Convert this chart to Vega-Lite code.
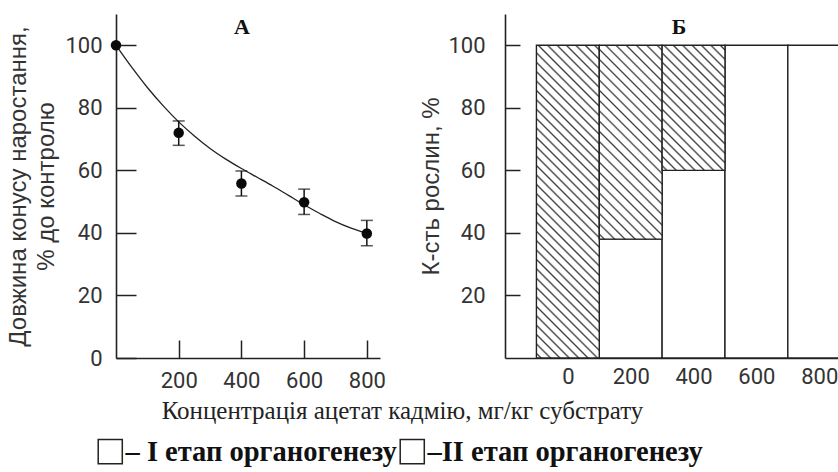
{
  "$schema": "https://vega.github.io/schema/vega-lite/v6.json",
  "background": "white",
  "padding": {"left": 6, "top": 14, "right": 0, "bottom": 0},
  "bounds": "flush",
  "spacing": 125,
  "config": {
    "view": {"stroke": null},
    "axis": {"grid": false, "domainColor": "#222", "domainWidth": 1.6, "tickColor": "#222", "tickWidth": 1.5, "labelFont": "Roboto", "labelFontSize": 22, "labelColor": "#333", "labelFlush": false, "labelOverlap": false, "titleFont": "Liberation Sans", "titleFontSize": 24, "titleFontWeight": "normal", "titleColor": "#333"}
  },
  "datasets": {
    "curve": [{"conc":0,"fit":100},{"conc":50,"fit":93},{"conc":100,"fit":86.5},{"conc":150,"fit":80.7},{"conc":200,"fit":75.5},{"conc":250,"fit":71},{"conc":300,"fit":67},{"conc":350,"fit":63.6},{"conc":400,"fit":60.6},{"conc":450,"fit":57.8},{"conc":500,"fit":55},{"conc":550,"fit":52},{"conc":600,"fit":49},{"conc":650,"fit":46.2},{"conc":700,"fit":43.6},{"conc":750,"fit":41.5},{"conc":800,"fit":39.8}],
    "points": [{"conc":0,"val":100},{"conc":200,"val":72,"lo":68,"hi":75.8},{"conc":400,"val":55.8,"lo":51.8,"hi":59.8},{"conc":600,"val":49.8,"lo":45.9,"hi":54},{"conc":800,"val":39.8,"lo":35.9,"hi":44}],
    "bars": [{"conc":0,"stage":"I","pct":0},{"conc":0,"stage":"II","pct":100},{"conc":200,"stage":"I","pct":38},{"conc":200,"stage":"II","pct":62},{"conc":400,"stage":"I","pct":60},{"conc":400,"stage":"II","pct":40},{"conc":600,"stage":"I","pct":100},{"conc":600,"stage":"II","pct":0},{"conc":800,"stage":"I","pct":100},{"conc":800,"stage":"II","pct":0}]
  },
  "hconcat": [
    {
      "width": 264, "height": 344,
      "layer": [
        {
          "data": {"name": "curve"},
          "mark": {"type": "line", "interpolate": "monotone", "color": "#222", "strokeWidth": 1.3},
          "encoding": {
            "x": {"field": "conc", "type": "quantitative", "scale": {"domain": [0, 842], "nice": false, "zero": false},
                  "axis": {"values": [200,400,600,800], "title": null, "tickSize": -18, "labelPadding": 30}},
            "y": {"field": "fit", "type": "quantitative", "scale": {"domain": [0, 110], "nice": false},
                  "axis": {"values": [0,20,40,60,80,100], "tickSize": -20, "labelPadding": 34, "title": ["Довжина конусу наростання,", "% до контролю"], "titlePadding": 6, "titleLineHeight": 28}}
          }
        },
        {
          "data": {"name": "points"},
          "mark": {"type": "rule", "color": "#111", "strokeWidth": 1.5},
          "encoding": {"x": {"field": "conc", "type": "quantitative"}, "y": {"field": "lo", "type": "quantitative"}, "y2": {"field": "hi"}}
        },
        {
          "data": {"name": "points"},
          "mark": {"type": "tick", "orient": "horizontal", "color": "#111", "size": 12, "thickness": 1.5},
          "encoding": {"x": {"field": "conc", "type": "quantitative"}, "y": {"field": "lo", "type": "quantitative"}}
        },
        {
          "data": {"name": "points"},
          "mark": {"type": "tick", "orient": "horizontal", "color": "#111", "size": 12, "thickness": 1.5},
          "encoding": {"x": {"field": "conc", "type": "quantitative"}, "y": {"field": "hi", "type": "quantitative"}}
        },
        {
          "data": {"name": "points"},
          "mark": {"type": "point", "filled": true, "size": 110, "color": "#0a0a0a", "opacity": 1},
          "encoding": {"x": {"field": "conc", "type": "quantitative"}, "y": {"field": "val", "type": "quantitative"}}
        },
        {
          "data": {"values": [{"panel": "А"}]},
          "mark": {"type": "text", "font": "Liberation Serif", "fontWeight": "bold", "fontSize": 22, "color": "#111", "baseline": "middle", "align": "center"},
          "encoding": {"x": {"datum": 402}, "y": {"datum": 105.7}, "text": {"field": "panel"}}
        }
      ]
    },
    {
      "width": 335, "height": 344,
      "layer": [
        {
          "data": {"name": "bars"},
          "transform": [
            {"stack": "pct", "groupby": ["conc"], "sort": [{"field": "stage", "order": "ascending"}], "as": ["y0", "y1"]},
            {"calculate": "datum.conc - 100", "as": "xl"},
            {"calculate": "datum.conc + 100", "as": "xr"},
            {"filter": "datum.stage === 'I' && datum.pct > 0"}
          ],
          "mark": {"type": "rect", "clip": true, "stroke": "#222", "strokeWidth": 1.4},
          "encoding": {
            "x": {"field": "xl", "type": "quantitative", "scale": {"domain": [-200, 866], "nice": false, "zero": false},
                  "axis": {"values": [0,200,400,600,800], "ticks": false, "labelPadding": 8,
                           "title": "Концентрація ацетат кадмію, мг/кг субстрату", "titleFont": "Liberation Serif", "titleFontSize": 25, "titleColor": "#222", "titleX": -103, "titleY": 60, "titleBaseline": "alphabetic", "titleAlign": "center"}},
            "x2": {"field": "xr"},
            "y": {"field": "y0", "type": "quantitative", "scale": {"domain": [0, 110], "nice": false},
                  "axis": {"values": [20,40,60,80,100], "tickSize": -15, "labelPadding": 35, "title": "К-сть рослин, %", "titlePadding": 4}},
            "y2": {"field": "y1"},
            "fill": {"field": "stage", "type": "nominal", "scale": {"domain": ["I", "II"], "range": ["#ffffff", "#ffffff"]},
                     "legend": {"orient": "none", "legendX": -20, "legendY": 423, "direction": "horizontal", "title": null,
                                "symbolType": "square", "symbolSize": 580, "symbolStrokeColor": "#222", "symbolStrokeWidth": 1.5, "symbolOpacity": 1,
                                "labelFont": "Liberation Serif", "labelFontWeight": "bold", "labelFontSize": 28.5, "labelColor": "#111", "labelOffset": 1, "labelLimit": 0, "columnPadding": 0,
                                "labelExpr": "datum.value === 'I' ? '– I етап органогенезу' : '–II етап органогенезу'"}}
          }
        },
        {
          "data": {"name": "bars"},
          "transform": [
            {"stack": "pct", "groupby": ["conc"], "sort": [{"field": "stage", "order": "ascending"}], "as": ["y0", "y1"]},
            {"calculate": "datum.conc - 100", "as": "xl"},
            {"calculate": "datum.conc + 100", "as": "xr"},
            {"filter": "datum.stage === 'II' && datum.conc === 0"}
          ],
          "mark": {"type": "rect", "clip": true, "stroke": "#222", "strokeWidth": 1.4,
                   "fill": {"gradient": "linear", "x1": 0, "y1": 1, "x2": 0.232, "y2": -0.1544, "stops": [
{"offset":0.0075,"color":"#fff"},{"offset":0.0125,"color":"#3c3c3c"},{"offset":0.0175,"color":"#fff"},
{"offset":0.0325,"color":"#fff"},{"offset":0.0375,"color":"#3c3c3c"},{"offset":0.0425,"color":"#fff"},
{"offset":0.0575,"color":"#fff"},{"offset":0.0625,"color":"#3c3c3c"},{"offset":0.0675,"color":"#fff"},
{"offset":0.0825,"color":"#fff"},{"offset":0.0875,"color":"#3c3c3c"},{"offset":0.0925,"color":"#fff"},
{"offset":0.1075,"color":"#fff"},{"offset":0.1125,"color":"#3c3c3c"},{"offset":0.1175,"color":"#fff"},
{"offset":0.1325,"color":"#fff"},{"offset":0.1375,"color":"#3c3c3c"},{"offset":0.1425,"color":"#fff"},
{"offset":0.1575,"color":"#fff"},{"offset":0.1625,"color":"#3c3c3c"},{"offset":0.1675,"color":"#fff"},
{"offset":0.1825,"color":"#fff"},{"offset":0.1875,"color":"#3c3c3c"},{"offset":0.1925,"color":"#fff"},
{"offset":0.2075,"color":"#fff"},{"offset":0.2125,"color":"#3c3c3c"},{"offset":0.2175,"color":"#fff"},
{"offset":0.2325,"color":"#fff"},{"offset":0.2375,"color":"#3c3c3c"},{"offset":0.2425,"color":"#fff"},
{"offset":0.2575,"color":"#fff"},{"offset":0.2625,"color":"#3c3c3c"},{"offset":0.2675,"color":"#fff"},
{"offset":0.2825,"color":"#fff"},{"offset":0.2875,"color":"#3c3c3c"},{"offset":0.2925,"color":"#fff"},
{"offset":0.3075,"color":"#fff"},{"offset":0.3125,"color":"#3c3c3c"},{"offset":0.3175,"color":"#fff"},
{"offset":0.3325,"color":"#fff"},{"offset":0.3375,"color":"#3c3c3c"},{"offset":0.3425,"color":"#fff"},
{"offset":0.3575,"color":"#fff"},{"offset":0.3625,"color":"#3c3c3c"},{"offset":0.3675,"color":"#fff"},
{"offset":0.3825,"color":"#fff"},{"offset":0.3875,"color":"#3c3c3c"},{"offset":0.3925,"color":"#fff"},
{"offset":0.4075,"color":"#fff"},{"offset":0.4125,"color":"#3c3c3c"},{"offset":0.4175,"color":"#fff"},
{"offset":0.4325,"color":"#fff"},{"offset":0.4375,"color":"#3c3c3c"},{"offset":0.4425,"color":"#fff"},
{"offset":0.4575,"color":"#fff"},{"offset":0.4625,"color":"#3c3c3c"},{"offset":0.4675,"color":"#fff"},
{"offset":0.4825,"color":"#fff"},{"offset":0.4875,"color":"#3c3c3c"},{"offset":0.4925,"color":"#fff"},
{"offset":0.5075,"color":"#fff"},{"offset":0.5125,"color":"#3c3c3c"},{"offset":0.5175,"color":"#fff"},
{"offset":0.5325,"color":"#fff"},{"offset":0.5375,"color":"#3c3c3c"},{"offset":0.5425,"color":"#fff"},
{"offset":0.5575,"color":"#fff"},{"offset":0.5625,"color":"#3c3c3c"},{"offset":0.5675,"color":"#fff"},
{"offset":0.5825,"color":"#fff"},{"offset":0.5875,"color":"#3c3c3c"},{"offset":0.5925,"color":"#fff"},
{"offset":0.6075,"color":"#fff"},{"offset":0.6125,"color":"#3c3c3c"},{"offset":0.6175,"color":"#fff"},
{"offset":0.6325,"color":"#fff"},{"offset":0.6375,"color":"#3c3c3c"},{"offset":0.6425,"color":"#fff"},
{"offset":0.6575,"color":"#fff"},{"offset":0.6625,"color":"#3c3c3c"},{"offset":0.6675,"color":"#fff"},
{"offset":0.6825,"color":"#fff"},{"offset":0.6875,"color":"#3c3c3c"},{"offset":0.6925,"color":"#fff"},
{"offset":0.7075,"color":"#fff"},{"offset":0.7125,"color":"#3c3c3c"},{"offset":0.7175,"color":"#fff"},
{"offset":0.7325,"color":"#fff"},{"offset":0.7375,"color":"#3c3c3c"},{"offset":0.7425,"color":"#fff"},
{"offset":0.7575,"color":"#fff"},{"offset":0.7625,"color":"#3c3c3c"},{"offset":0.7675,"color":"#fff"},
{"offset":0.7825,"color":"#fff"},{"offset":0.7875,"color":"#3c3c3c"},{"offset":0.7925,"color":"#fff"},
{"offset":0.8075,"color":"#fff"},{"offset":0.8125,"color":"#3c3c3c"},{"offset":0.8175,"color":"#fff"},
{"offset":0.8325,"color":"#fff"},{"offset":0.8375,"color":"#3c3c3c"},{"offset":0.8425,"color":"#fff"},
{"offset":0.8575,"color":"#fff"},{"offset":0.8625,"color":"#3c3c3c"},{"offset":0.8675,"color":"#fff"},
{"offset":0.8825,"color":"#fff"},{"offset":0.8875,"color":"#3c3c3c"},{"offset":0.8925,"color":"#fff"},
{"offset":0.9075,"color":"#fff"},{"offset":0.9125,"color":"#3c3c3c"},{"offset":0.9175,"color":"#fff"},
{"offset":0.9325,"color":"#fff"},{"offset":0.9375,"color":"#3c3c3c"},{"offset":0.9425,"color":"#fff"},
{"offset":0.9575,"color":"#fff"},{"offset":0.9625,"color":"#3c3c3c"},{"offset":0.9675,"color":"#fff"},
{"offset":0.9825,"color":"#fff"},{"offset":0.9875,"color":"#3c3c3c"},{"offset":0.9925,"color":"#fff"}
                   ]}},
          "encoding": {"x": {"field": "xl", "type": "quantitative"}, "x2": {"field": "xr"}, "y": {"field": "y0", "type": "quantitative"}, "y2": {"field": "y1"}}
        },
        {
          "data": {"name": "bars"},
          "transform": [
            {"stack": "pct", "groupby": ["conc"], "sort": [{"field": "stage", "order": "ascending"}], "as": ["y0", "y1"]},
            {"calculate": "datum.conc - 100", "as": "xl"},
            {"calculate": "datum.conc + 100", "as": "xr"},
            {"filter": "datum.stage === 'II' && datum.conc === 200"}
          ],
          "mark": {"type": "rect", "clip": true, "stroke": "#222", "strokeWidth": 1.4,
                   "fill": {"gradient": "linear", "x1": 0, "y1": 1, "x2": 0.3884, "y2": -0.1983, "stops": [
{"offset":0.013,"color":"#fff"},{"offset":0.02,"color":"#3c3c3c"},{"offset":0.027,"color":"#fff"},
{"offset":0.053,"color":"#fff"},{"offset":0.06,"color":"#3c3c3c"},{"offset":0.067,"color":"#fff"},
{"offset":0.093,"color":"#fff"},{"offset":0.10,"color":"#3c3c3c"},{"offset":0.107,"color":"#fff"},
{"offset":0.133,"color":"#fff"},{"offset":0.14,"color":"#3c3c3c"},{"offset":0.147,"color":"#fff"},
{"offset":0.173,"color":"#fff"},{"offset":0.18,"color":"#3c3c3c"},{"offset":0.187,"color":"#fff"},
{"offset":0.213,"color":"#fff"},{"offset":0.22,"color":"#3c3c3c"},{"offset":0.227,"color":"#fff"},
{"offset":0.253,"color":"#fff"},{"offset":0.26,"color":"#3c3c3c"},{"offset":0.267,"color":"#fff"},
{"offset":0.293,"color":"#fff"},{"offset":0.30,"color":"#3c3c3c"},{"offset":0.307,"color":"#fff"},
{"offset":0.333,"color":"#fff"},{"offset":0.34,"color":"#3c3c3c"},{"offset":0.347,"color":"#fff"},
{"offset":0.373,"color":"#fff"},{"offset":0.38,"color":"#3c3c3c"},{"offset":0.387,"color":"#fff"},
{"offset":0.413,"color":"#fff"},{"offset":0.42,"color":"#3c3c3c"},{"offset":0.427,"color":"#fff"},
{"offset":0.453,"color":"#fff"},{"offset":0.46,"color":"#3c3c3c"},{"offset":0.467,"color":"#fff"},
{"offset":0.493,"color":"#fff"},{"offset":0.50,"color":"#3c3c3c"},{"offset":0.507,"color":"#fff"},
{"offset":0.533,"color":"#fff"},{"offset":0.54,"color":"#3c3c3c"},{"offset":0.547,"color":"#fff"},
{"offset":0.573,"color":"#fff"},{"offset":0.58,"color":"#3c3c3c"},{"offset":0.587,"color":"#fff"},
{"offset":0.613,"color":"#fff"},{"offset":0.62,"color":"#3c3c3c"},{"offset":0.627,"color":"#fff"},
{"offset":0.653,"color":"#fff"},{"offset":0.66,"color":"#3c3c3c"},{"offset":0.667,"color":"#fff"},
{"offset":0.693,"color":"#fff"},{"offset":0.70,"color":"#3c3c3c"},{"offset":0.707,"color":"#fff"},
{"offset":0.733,"color":"#fff"},{"offset":0.74,"color":"#3c3c3c"},{"offset":0.747,"color":"#fff"},
{"offset":0.773,"color":"#fff"},{"offset":0.78,"color":"#3c3c3c"},{"offset":0.787,"color":"#fff"},
{"offset":0.813,"color":"#fff"},{"offset":0.82,"color":"#3c3c3c"},{"offset":0.827,"color":"#fff"},
{"offset":0.853,"color":"#fff"},{"offset":0.86,"color":"#3c3c3c"},{"offset":0.867,"color":"#fff"},
{"offset":0.893,"color":"#fff"},{"offset":0.90,"color":"#3c3c3c"},{"offset":0.907,"color":"#fff"},
{"offset":0.933,"color":"#fff"},{"offset":0.94,"color":"#3c3c3c"},{"offset":0.947,"color":"#fff"},
{"offset":0.973,"color":"#fff"},{"offset":0.98,"color":"#3c3c3c"},{"offset":0.987,"color":"#fff"}
                   ]}},
          "encoding": {"x": {"field": "xl", "type": "quantitative"}, "x2": {"field": "xr"}, "y": {"field": "y0", "type": "quantitative"}, "y2": {"field": "y1"}}
        },
        {
          "data": {"name": "bars"},
          "transform": [
            {"stack": "pct", "groupby": ["conc"], "sort": [{"field": "stage", "order": "ascending"}], "as": ["y0", "y1"]},
            {"calculate": "datum.conc - 100", "as": "xl"},
            {"calculate": "datum.conc + 100", "as": "xr"},
            {"filter": "datum.stage === 'II' && datum.conc === 400"}
          ],
          "mark": {"type": "rect", "clip": true, "stroke": "#222", "strokeWidth": 1.4,
                   "fill": {"gradient": "linear", "x1": 0, "y1": 1, "x2": 0.6027, "y2": -0.1996, "stops": [
{"offset":0.015,"color":"#fff"},{"offset":0.025,"color":"#3c3c3c"},{"offset":0.035,"color":"#fff"},
{"offset":0.065,"color":"#fff"},{"offset":0.075,"color":"#3c3c3c"},{"offset":0.085,"color":"#fff"},
{"offset":0.115,"color":"#fff"},{"offset":0.125,"color":"#3c3c3c"},{"offset":0.135,"color":"#fff"},
{"offset":0.165,"color":"#fff"},{"offset":0.175,"color":"#3c3c3c"},{"offset":0.185,"color":"#fff"},
{"offset":0.215,"color":"#fff"},{"offset":0.225,"color":"#3c3c3c"},{"offset":0.235,"color":"#fff"},
{"offset":0.265,"color":"#fff"},{"offset":0.275,"color":"#3c3c3c"},{"offset":0.285,"color":"#fff"},
{"offset":0.315,"color":"#fff"},{"offset":0.325,"color":"#3c3c3c"},{"offset":0.335,"color":"#fff"},
{"offset":0.365,"color":"#fff"},{"offset":0.375,"color":"#3c3c3c"},{"offset":0.385,"color":"#fff"},
{"offset":0.415,"color":"#fff"},{"offset":0.425,"color":"#3c3c3c"},{"offset":0.435,"color":"#fff"},
{"offset":0.465,"color":"#fff"},{"offset":0.475,"color":"#3c3c3c"},{"offset":0.485,"color":"#fff"},
{"offset":0.515,"color":"#fff"},{"offset":0.525,"color":"#3c3c3c"},{"offset":0.535,"color":"#fff"},
{"offset":0.565,"color":"#fff"},{"offset":0.575,"color":"#3c3c3c"},{"offset":0.585,"color":"#fff"},
{"offset":0.615,"color":"#fff"},{"offset":0.625,"color":"#3c3c3c"},{"offset":0.635,"color":"#fff"},
{"offset":0.665,"color":"#fff"},{"offset":0.675,"color":"#3c3c3c"},{"offset":0.685,"color":"#fff"},
{"offset":0.715,"color":"#fff"},{"offset":0.725,"color":"#3c3c3c"},{"offset":0.735,"color":"#fff"},
{"offset":0.765,"color":"#fff"},{"offset":0.775,"color":"#3c3c3c"},{"offset":0.785,"color":"#fff"},
{"offset":0.815,"color":"#fff"},{"offset":0.825,"color":"#3c3c3c"},{"offset":0.835,"color":"#fff"},
{"offset":0.865,"color":"#fff"},{"offset":0.875,"color":"#3c3c3c"},{"offset":0.885,"color":"#fff"},
{"offset":0.915,"color":"#fff"},{"offset":0.925,"color":"#3c3c3c"},{"offset":0.935,"color":"#fff"},
{"offset":0.965,"color":"#fff"},{"offset":0.975,"color":"#3c3c3c"},{"offset":0.985,"color":"#fff"}
                   ]}},
          "encoding": {"x": {"field": "xl", "type": "quantitative"}, "x2": {"field": "xr"}, "y": {"field": "y0", "type": "quantitative"}, "y2": {"field": "y1"}}
        },
        {
          "data": {"values": [{"panel": "Б"}]},
          "mark": {"type": "text", "font": "Liberation Serif", "fontWeight": "bold", "fontSize": 22, "color": "#111", "baseline": "middle", "align": "center"},
          "encoding": {"x": {"datum": 353.7}, "y": {"datum": 105.7}, "text": {"field": "panel"}}
        }
      ]
    }
  ]
}
